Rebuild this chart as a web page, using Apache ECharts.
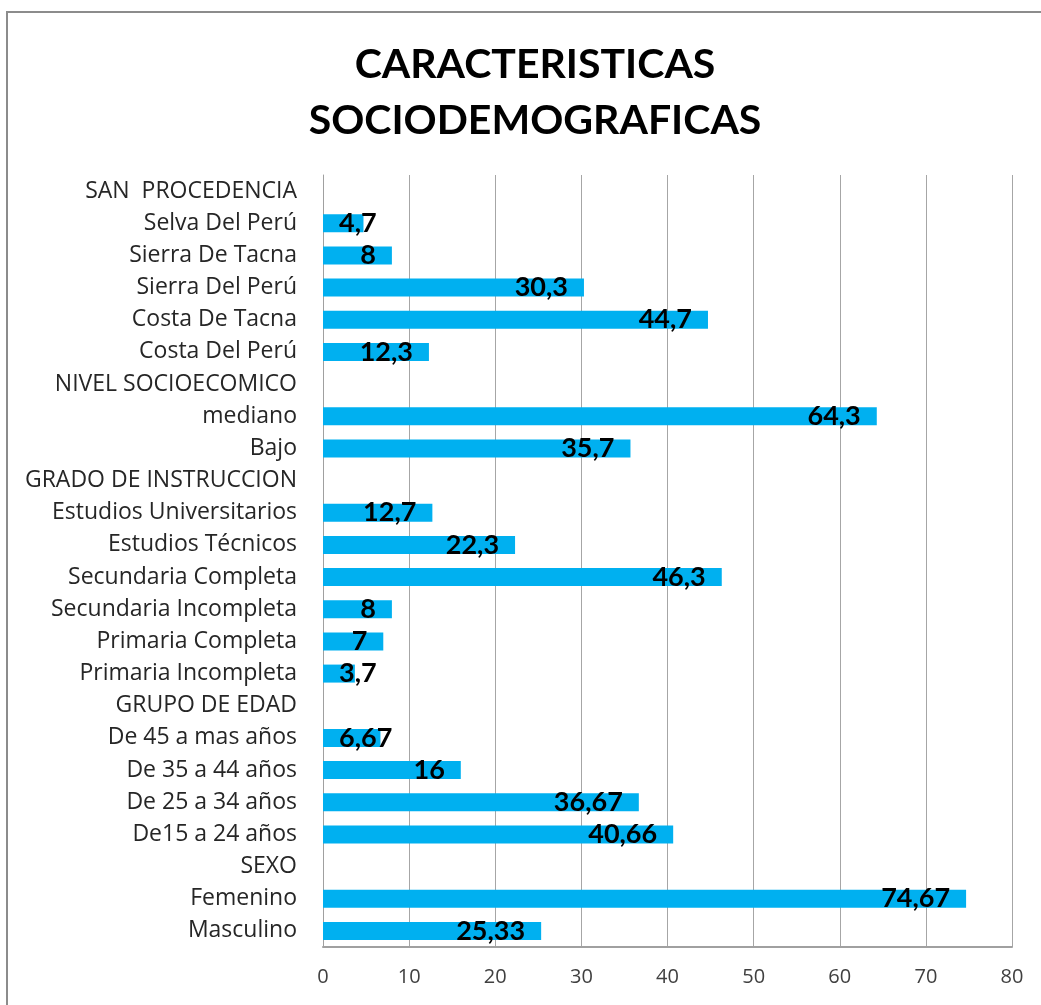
<!DOCTYPE html>
<html>
<head>
<meta charset="utf-8">
<title>Caracteristicas sociodemograficas</title>
<script src="https://cdn.jsdelivr.net/npm/echarts@6/dist/echarts.min.js"></script>
<style>
  html, body { margin: 0; padding: 0; background: #fff; }
  #main { width: 1041px; height: 1005px; }
</style>
</head>
<body>
<div id="main"></div>
<script>
// categorias (de abajo hacia arriba, como en el eje)
var categorias = [
  'Masculino', 'Femenino', 'SEXO',
  'De15 a 24 años', 'De 25 a 34 años', 'De 35 a 44 años', 'De 45 a mas años', 'GRUPO DE EDAD',
  'Primaria Incompleta', 'Primaria Completa', 'Secundaria Incompleta', 'Secundaria Completa',
  'Estudios Técnicos', 'Estudios Universitarios', 'GRADO DE INSTRUCCION',
  'Bajo', 'mediano', 'NIVEL SOCIOECOMICO',
  'Costa Del Perú', 'Costa De Tacna', 'Sierra Del Perú', 'Sierra De Tacna', 'Selva Del Perú',
  'SAN  PROCEDENCIA'
];
// porcentajes (null = fila de titulo del grupo)
var valores = [
  25.33, 74.67, null,
  40.66, 36.67, 16, 6.67, null,
  3.7, 7, 8, 46.3, 22.3, 12.7, null,
  35.7, 64.3, null,
  12.3, 44.7, 30.3, 8, 4.7, null
];
var ticksX = [0, 10, 20, 30, 40, 50, 60, 70, 80];

// barras cortas: etiqueta pegada al eje
var datos = valores.map(function (v) {
  if (v !== null && v < 7) {
    return { value: v, label: { position: 'insideLeft', distance: 16 } };
  }
  return v;
});

var myChart = echarts.init(document.getElementById('main'));
var option = {
  backgroundColor: '#fff',
  animation: false,
  title: {
    text: 'CARACTERISTICAS\nSOCIODEMOGRAFICAS',
    left: 530,
    top: 32,
    textAlign: 'center',
    textStyle: {
      fontFamily: 'Lato',
      fontWeight: 'bold',
      fontSize: 41,
      lineHeight: 56,
      color: '#000'
    }
  },
  graphic: [{
    type: 'rect',
    shape: { x: 7, y: 12, width: 1100, height: 1100 },
    style: { fill: 'none', stroke: '#8c8c8c', lineWidth: 2 },
    silent: true
  }],
  grid: { left: 323, right: 29, top: 175, bottom: 58 },
  xAxis: {
    type: 'value',
    min: ticksX[0],
    max: ticksX[ticksX.length - 1],
    interval: 10,
    axisLine: { show: true, lineStyle: { color: '#a0a0a0', width: 2 } },
    axisTick: { show: false },
    splitLine: { show: true, lineStyle: { color: '#a6a6a6', width: 1 } },
    axisLabel: {
      margin: 20,
      fontFamily: 'Open Sans',
      fontSize: 20,
      color: '#404040'
    }
  },
  yAxis: {
    type: 'category',
    data: categorias,
    axisLine: { show: true, lineStyle: { color: '#a0a0a0', width: 1 } },
    axisTick: { show: false },
    axisLabel: {
      margin: 26,
      interval: 0,
      fontFamily: 'Open Sans',
      fontSize: 23,
      color: '#262626'
    }
  },
  series: [{
    type: 'bar',
    data: datos,
    barWidth: 18,
    itemStyle: { color: '#00b0f0' },
    label: {
      show: true,
      position: 'insideRight',
      distance: 16,
      fontFamily: 'Lato',
      fontWeight: 'bold',
      fontSize: 27,
      color: '#000',
      formatter: function (p) {
        return String(p.value).replace('.', ',');
      }
    }
  }]
};
myChart.setOption(option);
</script>
</body>
</html>
